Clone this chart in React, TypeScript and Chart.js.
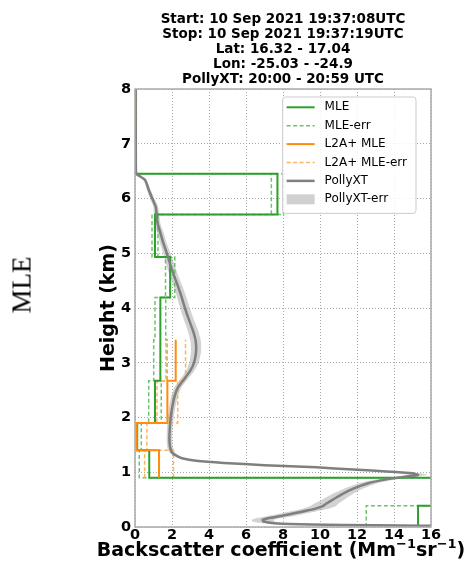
import React, { useEffect, useRef } from "react";
import { Chart, registerables } from "chart.js";

Chart.register(...registerables);

const FONT = '"DejaVu Sans", sans-serif';

const titleLines = [
  "Start: 10 Sep 2021 19:37:08UTC",
  "Stop: 10 Sep 2021 19:37:19UTC",
  "Lat: 16.32 - 17.04",
  "Lon: -25.03 - -24.9",
  "PollyXT: 20:00 - 20:59 UTC",
];

// MLE retrieval: layer edges (km), backscatter (Mm-1 sr-1) and its uncertainty
const mleEdges = [0, 0.39, 0.9, 1.4, 1.9, 2.67, 3.42, 4.19, 4.93, 5.71, 6.45, 8.0];
const mleValue = [15.3, 20.0, 0.77, 0.12, 1.08, 1.37, 1.37, 1.9, 1.08, 7.7, 0.03];
const mleErr = [2.8, 3.0, 0.54, 0.22, 0.34, 0.36, 0.29, 0.25, 0.16, 0.33, 0.04];

// L2A+ MLE product (no retrieval between 3.42 and 6.45 km)
const l2aEdges = [0.9, 1.4, 1.9, 2.67, 3.42, 6.45, 8.0];
const l2aValue: (number | null)[] = [1.3, 0.09, 1.75, 2.2, null, 0.02];
const l2aErr: (number | null)[] = [0.78, 0.55, 0.56, 0.53, null, 0.05];

// PollyXT ground-based profile
const pollyHeight = [
  0.02, 0.03, 0.045, 0.07, 0.1, 0.13, 0.16, 0.2, 0.25, 0.3, 0.34, 0.38, 0.43, 0.5,
  0.6, 0.7, 0.8, 0.87, 0.92, 0.95, 0.98, 1.01, 1.05, 1.09, 1.13, 1.17, 1.21, 1.25,
  1.3, 1.36, 1.45, 1.6, 1.8, 2.0, 2.2, 2.4, 2.55, 2.7, 2.85, 3.0, 3.2, 3.4, 3.6, 3.8,
  4.0, 4.2, 4.4, 4.6, 4.8, 5.0, 5.2, 5.4, 5.55, 5.7, 5.85, 6.0, 6.15, 6.28, 6.34,
  6.4, 6.44, 6.5, 7.0, 8.0,
];
const pollyValue = [
  18, 13, 9.5, 7.5, 6.95, 6.9, 7.2, 7.9, 8.6, 9.3, 9.8, 10.15, 10.35, 10.7,
  11.2, 11.8, 12.6, 13.6, 14.6, 15.3, 15.0, 13.8, 11.8, 9.8, 7.0, 4.8, 3.3, 2.6,
  2.25, 2.0, 1.9, 1.86, 1.88, 1.93, 2.02, 2.15, 2.32, 2.65, 2.98, 3.19, 3.3, 3.28, 3.12, 2.9,
  2.7, 2.52, 2.32, 2.1, 1.9, 1.72, 1.52, 1.35, 1.22, 1.17, 1.12, 0.93, 0.75, 0.62, 0.54,
  0.3, 0.1, 0.05, 0.04, 0.03,
];
const pollyErr = [
  0.5, 0.6, 0.6, 0.6, 0.6, 0.6, 0.65, 0.7, 0.7, 0.7, 0.7, 0.7, 0.65, 0.6,
  0.55, 0.5, 0.5, 0.5, 0.5, 0.5, 0.45, 0.4, 0.35, 0.3, 0.25, 0.2, 0.17, 0.15,
  0.15, 0.15, 0.15, 0.15, 0.15, 0.16, 0.17, 0.18, 0.19, 0.2, 0.22, 0.25, 0.27, 0.28, 0.28, 0.27,
  0.26, 0.25, 0.24, 0.23, 0.22, 0.2, 0.18, 0.17, 0.15, 0.14, 0.13, 0.12, 0.1, 0.08, 0.07,
  0.05, 0.04, 0.03, 0.03, 0.03,
];

// axis label pieces: [text, isSuperscript]
const xTitleParts: [string, boolean][] = [
  ["Backscatter coefficient (Mm", false],
  ["\u22121", true],
  ["sr", false],
  ["\u22121", true],
  [")", false],
];
const yTitle = "Height (km)";

const mleColor = "#2ca02c";
const mleErrColor = "#6dc26d";
const l2aColor = "#ff8c0a";
const l2aErrColor = "#ffb45c";
const pollyColor = "#7f7f7f";
const pollyBand = "rgba(165,165,165,0.5)";

type Pt = { x: number | null; y: number | null };
const GAP: Pt = { x: null, y: null };

// vertical step profile: each layer is a vertical segment joined by horizontal steps
function stepProfile(
  edges: number[],
  values: (number | null)[],
  spread: (number | null)[] | null,
  sign: number
): Pt[] {
  const pts: Pt[] = [];
  values.forEach((v, i) => {
    if (v === null) {
      pts.push(GAP);
      return;
    }
    const x = spread ? v + sign * (spread[i] as number) : v;
    pts.push({ x, y: edges[i] }, { x, y: edges[i + 1] });
  });
  return pts;
}

const pollyLine: Pt[] = pollyHeight.map((h, i) => ({ x: pollyValue[i], y: h }));
const pollyShape: Pt[] = [
  ...pollyHeight.map((h, i) => ({ x: pollyValue[i] + pollyErr[i], y: h })),
  ...pollyHeight
    .map((h, i) => ({ x: pollyValue[i] - pollyErr[i], y: h }))
    .reverse(),
];

const legendItems = [
  { label: "MLE", kind: "line", color: mleColor, width: 2, dash: [] as number[] },
  { label: "MLE-err", kind: "line", color: mleErrColor, width: 1.5, dash: [4, 2.5] },
  { label: "L2A+ MLE", kind: "line", color: l2aColor, width: 2, dash: [] as number[] },
  { label: "L2A+ MLE-err", kind: "line", color: l2aErrColor, width: 1.5, dash: [4, 2.5] },
  { label: "PollyXT", kind: "line", color: pollyColor, width: 2.5, dash: [] as number[] },
  { label: "PollyXT-err", kind: "patch", color: "#d0d0d0", width: 0, dash: [] as number[] },
];

const headerPlugin = {
  id: "header",
  afterDraw(chart: any) {
    const { ctx, chartArea } = chart;
    ctx.save();
    ctx.font = `bold 13.5px ${FONT}`;
    ctx.fillStyle = "#000";
    ctx.textAlign = "center";
    ctx.textBaseline = "alphabetic";
    const cx = (chartArea.left + chartArea.right) / 2;
    titleLines.forEach((t, i) => ctx.fillText(t, cx, chartArea.top - 65.7 + i * 15));

    // x axis label with raised exponents
    const mainFont = `bold 19px ${FONT}`;
    const supFont = `bold 13px ${FONT}`;
    ctx.textAlign = "left";
    const widths = xTitleParts.map(([t, sup]) => {
      ctx.font = sup ? supFont : mainFont;
      return ctx.measureText(t).width;
    });
    const total = widths.reduce((s, w) => s + w, 0);
    let x = cx - 2 - total / 2;
    const base = chartArea.bottom + 28.5;
    xTitleParts.forEach(([t, sup], i) => {
      ctx.font = sup ? supFont : mainFont;
      ctx.fillText(t, x, sup ? base - 7.5 : base);
      x += widths[i];
    });
    ctx.restore();
  },
};

const framePlugin = {
  id: "frame",
  afterDatasetsDraw(chart: any) {
    const { ctx, chartArea: a } = chart;
    ctx.save();
    ctx.strokeStyle = "#aaaaaa";
    ctx.lineWidth = 1.5;
    ctx.strokeRect(a.left, a.top, a.right - a.left, a.bottom - a.top);
    ctx.restore();
  },
};

const legendPlugin = {
  id: "boxLegend",
  afterDraw(chart: any) {
    const { ctx, chartArea: a } = chart;
    ctx.save();
    ctx.font = `12px ${FONT}`;
    const textW = Math.max(...legendItems.map((it) => ctx.measureText(it.label).width));
    const rowH = 18.4;
    const padX = 4;
    const handleW = 28;
    const gap = 10;
    const w = padX + handleW + gap + textW + 9;
    const h = legendItems.length * rowH + 6;
    const right = a.right - 15;
    const left = right - w;
    const top = a.top + 8;
    ctx.beginPath();
    ctx.roundRect(left, top, w, h, 3);
    ctx.fillStyle = "rgba(255,255,255,0.85)";
    ctx.fill();
    ctx.strokeStyle = "#cccccc";
    ctx.lineWidth = 1;
    ctx.stroke();
    legendItems.forEach((it, i) => {
      const cy = top + 10.3 + i * rowH;
      const hx = left + padX;
      if (it.kind === "patch") {
        ctx.fillStyle = it.color;
        ctx.fillRect(hx, cy - 5, handleW, 10);
      } else {
        ctx.beginPath();
        ctx.setLineDash(it.dash);
        ctx.strokeStyle = it.color;
        ctx.lineWidth = it.width;
        ctx.moveTo(hx, cy);
        ctx.lineTo(hx + handleW, cy);
        ctx.stroke();
        ctx.setLineDash([]);
      }
      ctx.fillStyle = "#000";
      ctx.textAlign = "left";
      ctx.textBaseline = "middle";
      ctx.fillText(it.label, hx + handleW + gap, cy);
    });
    ctx.restore();
  },
};

const gridStyle = { color: "#a8a8a8", lineWidth: 1, drawTicks: false };
const borderStyle = { display: false, dash: [1, 2] };
const tickFont = { family: FONT, size: 14.5, weight: "bold" as const };
const titleFont = { family: FONT, size: 19, weight: "bold" as const };

export default function App() {
  const ref = useRef<HTMLCanvasElement>(null);

  useEffect(() => {
    const chart = new Chart(ref.current as HTMLCanvasElement, {
      type: "scatter",
      data: {
        datasets: [
          {
            label: "PollyXT",
            data: pollyLine as any,
            showLine: true,
            borderColor: pollyColor,
            borderWidth: 2.5,
            pointRadius: 0,
            tension: 0.2,
            order: 1,
          },
          {
            label: "MLE",
            data: stepProfile(mleEdges, mleValue, null, 0) as any,
            showLine: true,
            borderColor: mleColor,
            borderWidth: 2,
            pointRadius: 0,
            order: 3,
          },
          {
            label: "L2A+ MLE",
            data: stepProfile(l2aEdges, l2aValue, null, 0) as any,
            showLine: true,
            borderColor: l2aColor,
            borderWidth: 2,
            pointRadius: 0,
            order: 2,
          },
          {
            label: "MLE-err",
            data: [
              ...stepProfile(mleEdges, mleValue, mleErr, -1),
              GAP,
              ...stepProfile(mleEdges, mleValue, mleErr, 1),
            ] as any,
            showLine: true,
            borderColor: mleErrColor,
            borderWidth: 1.5,
            borderDash: [4, 2.5],
            pointRadius: 0,
            order: 5,
          },
          {
            label: "L2A+ MLE-err",
            data: [
              ...stepProfile(l2aEdges, l2aValue, l2aErr, -1),
              GAP,
              ...stepProfile(l2aEdges, l2aValue, l2aErr, 1),
            ] as any,
            showLine: true,
            borderColor: l2aErrColor,
            borderWidth: 1.5,
            borderDash: [4, 2.5],
            pointRadius: 0,
            order: 4,
          },
          {
            label: "PollyXT-err",
            data: pollyShape as any,
            showLine: true,
            fill: "shape",
            backgroundColor: pollyBand,
            borderColor: "rgba(0,0,0,0)",
            borderWidth: 0,
            pointRadius: 0,
            tension: 0.15,
            order: 6,
          },
        ],
      },
      options: {
        responsive: false,
        devicePixelRatio: 1,
        animation: false,
        layout: { padding: { top: 89, right: 40, bottom: 0, left: 0 } },
        plugins: {
          legend: { display: false },
          tooltip: { enabled: false },
          title: { display: false },
        },
        scales: {
          x: {
            type: "linear",
            min: 0,
            max: 16,
            ticks: { stepSize: 2, font: tickFont, color: "#000", padding: 0, maxRotation: 0, autoSkip: false },
            grid: gridStyle,
            border: borderStyle,
            title: { display: false },
            afterFit: (s: any) => {
              s.height = 38;
            },
          },
          y: {
            type: "linear",
            min: 0,
            max: 8,
            ticks: { stepSize: 1, font: tickFont, color: "#000", padding: 4, autoSkip: false },
            grid: gridStyle,
            border: borderStyle,
            title: { display: true, text: yTitle, font: titleFont, color: "#000", padding: { top: 97.6, bottom: 0 } },
            afterFit: (s: any) => {
              s.width = 135;
            },
          },
        },
      },
      plugins: [framePlugin, headerPlugin, legendPlugin],
    } as any);
    return () => chart.destroy();
  }, []);

  return (
    <div style={{ position: "absolute", left: 0, top: 0, width: 471, height: 565, background: "#fff" }}>
      <canvas
        ref={ref}
        width={471}
        height={565}
        style={{ position: "absolute", left: 0, top: 0, width: 471, height: 565 }}
      />
      <div
        style={{
          position: "absolute",
          left: 22,
          top: 285,
          transform: "translate(-50%, -50%) rotate(-90deg)",
          fontFamily: '"Liberation Serif", serif',
          fontSize: 27,
          lineHeight: 1,
          whiteSpace: "nowrap",
          color: "#000",
        }}
      >
        MLE
      </div>
    </div>
  );
}
